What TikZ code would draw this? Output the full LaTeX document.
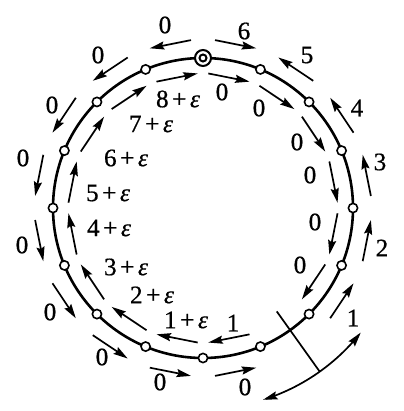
\documentclass[tikz,border=0pt]{standalone}
\usepackage{fontspec}
\setmainfont{Liberation Serif}
\newfontfamily\lblfont[FakeBold=0.6]{Liberation Serif}
\usetikzlibrary{arrows.meta,calc}
\begin{document}
\begin{tikzpicture}[x=0.5pt,y=-0.5pt,
  lbl/.style={font=\lblfont\fontsize{12.6}{14}\selectfont, inner sep=0pt},
  tip/.tip={Stealth[length=7.2pt,width=4pt,inset=1pt]},
  arr/.style={line width=0.85pt, -tip},
  vtx/.style={circle, draw, fill=white, line width=0.8pt, minimum size=4.6pt, inner sep=0pt},
  src/.style={circle, draw, fill=white, line width=1pt, minimum size=8pt, inner sep=0pt}]
\useasboundingbox (0,0) rectangle (403,411);
\coordinate (C) at (203,208);
% main ring
\draw[line width=1.3pt] (C) circle[radius=75pt];
% cut line and curved double arrow
\coordinate (cutA) at ($(C)+(54.5:127)$);
\coordinate (cutB) at ($(C)+(54.5:201)$);
\draw[line width=0.85pt] (cutA) -- (cutB);
\draw[line width=0.85pt, tip-tip]
  plot[domain=72.6:38.3, samples=40] ({203+201*cos(\x)},{208+201*sin(\x)});
% vertices
\foreach \k in {1,...,15}
  \node[vtx] (n\k) at ($(C)+(\k*22.5-90:150)$) {};
\node[src] (n0) at ($(C)+(-90:150)$) {};
\draw[line width=1pt] (n0.center) circle[radius=1.75pt];
% arrows: segment / radius / direction (1 = clockwise, -1 = counterclockwise)
\foreach \k/\r/\d in {0/133/1,1/133/1,2/133/1,3/133/1,4/133/1,5/133/1,
   7/133/1,8/133/1,9/133/1,10/133/1,11/133/1,12/133/1,13/133/1,14/133/1,15/133/1,
   0/167/1,1/167/-1,2/167/-1,3/167/-1,4/167/-1,5/167/-1,
   7/167/-1,8/167/-1,9/167/-1,10/167/-1,11/167/-1,12/167/-1,13/167/-1,14/167/-1,15/167/-1}{
  \pgfmathsetmacro\tm{\k*22.5+11.25-90}
  \pgfmathsetmacro\ta{\tm-90*\d}
  \pgfmathsetmacro\tb{\tm+90*\d}
  \coordinate (s\k-\r-a) at ($(C)+(\tm:\r)+(\ta:21)$);
  \coordinate (s\k-\r-b) at ($(C)+(\tm:\r)+(\tb:21)$);
  \draw[arr] (s\k-\r-a) -- (s\k-\r-b);
}
% outer labels
\node[lbl] (o0) at (244,31) {6};
\node[lbl] (o1) at (307,55) {5};
\node[lbl] (o2) at (357,108) {4};
\node[lbl] (o3) at (380,162) {3};
\node[lbl] (o4) at (382,248) {2};
\node[lbl] (o5) at (353,318) {1};
\node[lbl] (o7) at (245,387) {0};
\node[lbl] (o8) at (160,382) {0};
\node[lbl] (o9) at (102,357) {0};
\node[lbl] (o10) at (50,312) {0};
\node[lbl] (o11) at (22,245) {0};
\node[lbl] (o12) at (23,158) {0};
\node[lbl] (o13) at (52,105) {0};
\node[lbl] (o14) at (98,55) {0};
\node[lbl] (o15) at (165,25) {0};
% inner labels
\node[lbl] (i0) at (222,92) {0};
\node[lbl] (i1) at (259,108) {0};
\node[lbl] (i2) at (297,142) {0};
\node[lbl] (i3) at (310,175) {0};
\node[lbl] (i4) at (315,222) {0};
\node[lbl] (i5) at (300,265) {0};
\node[lbl] (i7) at (233,323) {1};
\node[lbl] (i8) at (186,320) {1\kern1.8pt+\kern1.8pt\textit{ε}};
\node[lbl] (i9) at (152,295) {2\kern1.8pt+\kern1.8pt\textit{ε}};
\node[lbl] (i10) at (126,267) {3\kern1.8pt+\kern1.8pt\textit{ε}};
\node[lbl] (i11) at (109,228) {4\kern1.8pt+\kern1.8pt\textit{ε}};
\node[lbl] (i12) at (108,193) {5\kern1.8pt+\kern1.8pt\textit{ε}};
\node[lbl] (i13) at (126,158) {6\kern1.8pt+\kern1.8pt\textit{ε}};
\node[lbl] (i14) at (151,124) {7\kern1.8pt+\kern1.8pt\textit{ε}};
\node[lbl] (i15) at (178,99) {8\kern1.8pt+\kern1.8pt\textit{ε}};
\end{tikzpicture}
\end{document}
